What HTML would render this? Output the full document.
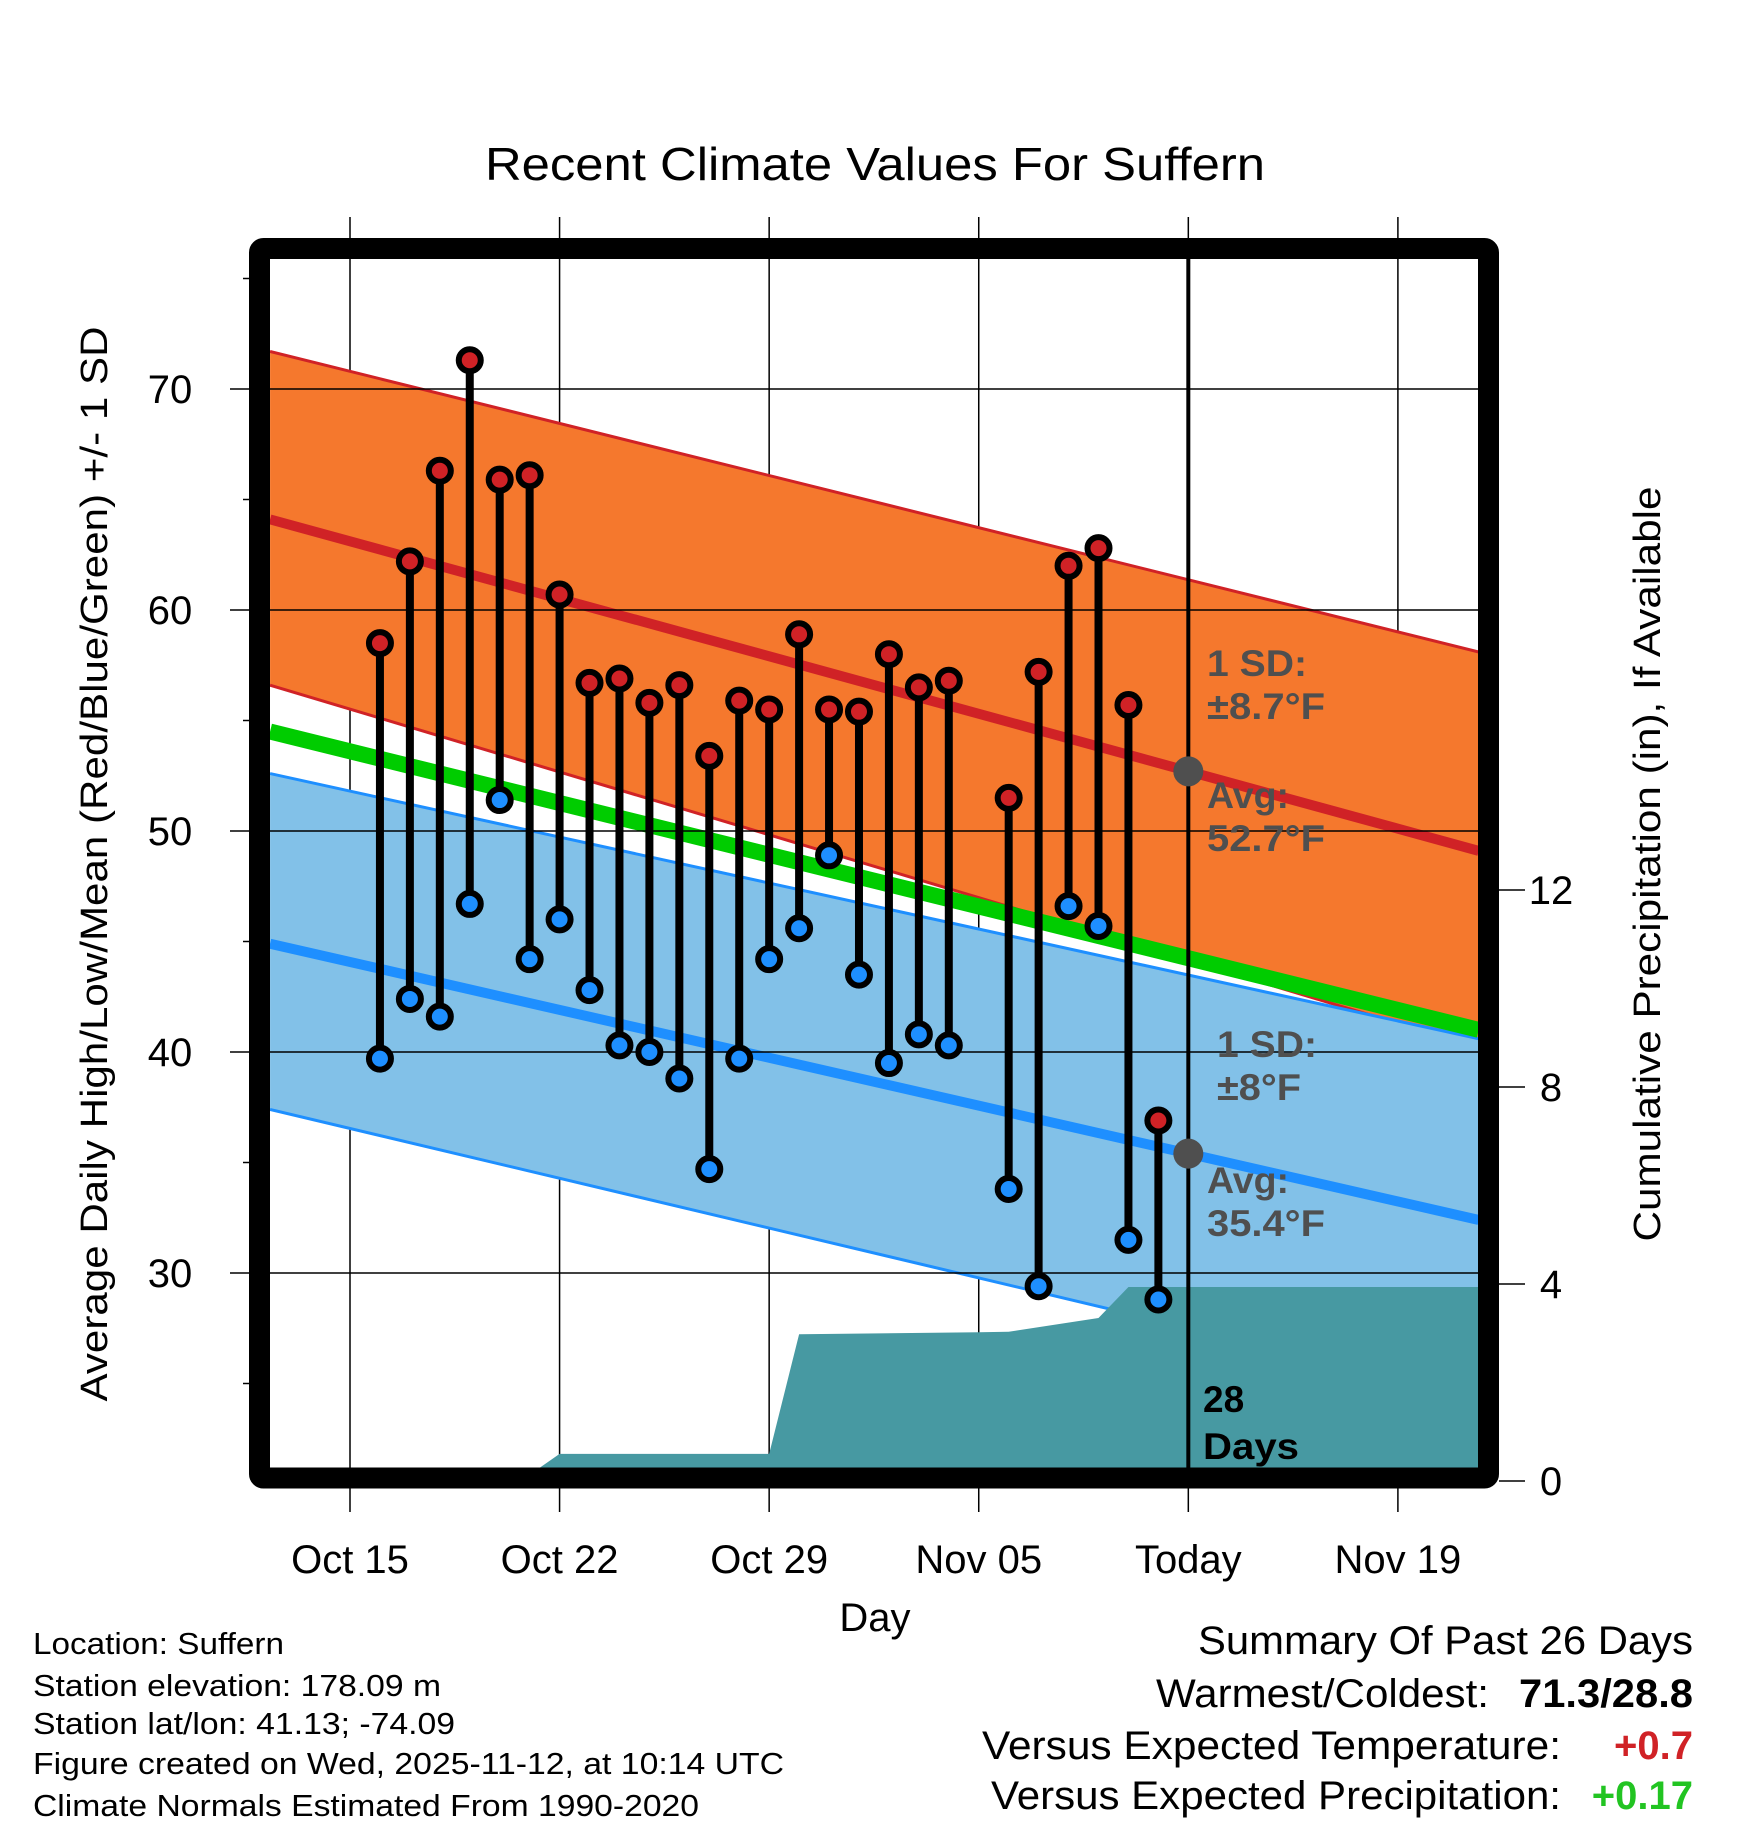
<!DOCTYPE html>
<html><head><meta charset="utf-8"><style>html,body{margin:0;padding:0;background:#fff}svg{display:block}text{font-family:"Liberation Sans",Arial,sans-serif}</style></head>
<body>
<svg id="chart" width="1748" height="1828" viewBox="0 0 1748 1828" xmlns="http://www.w3.org/2000/svg">
<g id="bg"></g><g id="marks"></g><g id="fg"></g>
</svg>
<script>
// ---- data ----
const obsDays = [1,2,3,4,5,6,7,8,9,10,11,12,13,14,15,16,17,18,19,20,22,23,24,25,26,27];
const highs = [58.5,62.2,66.3,71.3,65.9,66.1,60.7,56.7,56.9,55.8,56.6,53.4,55.9,55.5,58.9,55.5,55.4,58.0,56.5,56.8,51.5,57.2,62.0,62.8,55.7,36.9];
const lows  = [39.7,42.4,41.6,46.7,51.4,44.2,46.0,42.8,40.3,40.0,38.8,34.7,39.7,44.2,45.6,48.9,43.5,39.5,40.8,40.3,33.8,29.4,46.6,45.7,31.5,28.8];
const precipDays = [-3,5.7,7,14,15,21,22,25,26,38];
const precipCum  = [0,0,0.55,0.55,2.98,3.02,3.03,3.31,3.94,3.94];
const normDays = [-2.67,37.7];
const normHigh = [64.1,49.1];
const highUpper = [71.7,58.1];
const highLower = [56.6,40.2];
const normLow  = [44.9,32.4];
const lowUpper = [52.6,40.6];
const lowLower = [37.4,24.4];
const normMean = [54.5,41.0];
const xTickDays = [0,7,14,21,28,35];
const xTickLabels = ["Oct 15","Oct 22","Oct 29","Nov 05","Today","Nov 19"];
const yTicks = [30,40,50,60,70];
const yMinor = [25,35,45,55,65,75];
const pTicks = [0,4,8,12];
const todayDay = 28;

// ---- axes ----
const PL=270, PR=1478, PT=259, PB=1468;
const X = d => 350 + d*29.94;
const Y = v => 389 + (70-v)*22.1;
const P = p => 1481 - p*49.25;
const NS='http://www.w3.org/2000/svg';
function mk(parent, tag, attrs, txt){const e=document.createElementNS(NS,tag);for(const k in attrs)e.setAttribute(k,attrs[k]);if(txt!==undefined)e.textContent=txt;parent.appendChild(e);return e;}
const bg=document.getElementById('bg'), marks=document.getElementById('marks'), fg=document.getElementById('fg');
const clip = mk(document.getElementById('chart'),'clipPath',{id:'pc'});
mk(clip,'rect',{x:PL,y:PT,width:PR-PL,height:PB-PT});
marks.setAttribute('clip-path','url(#pc)');

// title
let t=mk(fg,'text',{x:875,y:180,'text-anchor':'middle','font-size':46,textLength:780,lengthAdjust:'spacingAndGlyphs'},'Recent Climate Values For Suffern');



// bands
function band(up, lo, fill, edge, name){
  const d0=normDays[0], d1=normDays[1];
  const pts=[[X(d0),Y(up[0])],[X(d1),Y(up[1])],[X(d1),Y(lo[1])],[X(d0),Y(lo[0])]];
  const p=mk(marks,'polygon',{points:pts.map(q=>q.join(',')).join(' '),fill:fill});
  
  
  for(const arr of [up,lo]){
    const l=mk(marks,'line',{x1:X(d0),y1:Y(arr[0]),x2:X(d1),y2:Y(arr[1]),stroke:edge,'stroke-width':3});
    
    
  }
}
band(highUpper, highLower, '#f5782d', '#d02226', 'high');
band(lowUpper, lowLower, '#82c1e8', '#1e8fff', 'low');
let ml=mk(marks,'line',{x1:X(normDays[0]),y1:Y(normMean[0]),x2:X(normDays[1]),y2:Y(normMean[1]),stroke:'#00cc00','stroke-width':16});


let hl=mk(marks,'line',{x1:X(normDays[0]),y1:Y(normHigh[0]),x2:X(normDays[1]),y2:Y(normHigh[1]),stroke:'#d02226','stroke-width':10});


let ll=mk(marks,'line',{x1:X(normDays[0]),y1:Y(normLow[0]),x2:X(normDays[1]),y2:Y(normLow[1]),stroke:'#1e8fff','stroke-width':10});



// precip area
let pp='M'+X(precipDays[0])+','+P(0);
precipDays.forEach((d,i)=>{pp+=' L'+X(d)+','+P(precipCum[i]);});
pp+=' L'+X(precipDays[precipDays.length-1])+','+P(0)+' Z';
let pa=mk(marks,'path',{d:pp,fill:'#4799a2'});



// grid
xTickDays.forEach((d,i)=>{
  const g=mk(bg,'line',{x1:X(d),y1:217,x2:X(d),y2:1512,stroke:'#000','stroke-width':1.5});
  
  
  const tl=mk(fg,'text',{x:X(d),y:1573,'text-anchor':'middle','font-size':40},xTickLabels[i]);
  
  
});
yTicks.forEach(v=>{
  const g=mk(fg,'line',{x1:230,y1:Y(v),x2:PR,y2:Y(v),stroke:'#000','stroke-width':1.5});
  
  
  const tl=mk(fg,'text',{x:170,y:Y(v)+14,'text-anchor':'middle','font-size':40},String(v));
  
  
});
yMinor.forEach(v=>{
  const g=mk(fg,'line',{x1:243,y1:Y(v),x2:252,y2:Y(v),stroke:'#000','stroke-width':1.5});
  
  
});
pTicks.forEach(p=>{
  const g=mk(fg,'line',{x1:1499,y1:P(p),x2:1525,y2:P(p),stroke:'#000','stroke-width':1.5});
  
  
  const tl=mk(fg,'text',{x:1551,y:P(p)+14,'text-anchor':'middle','font-size':40},String(p));
  
  
});

// stems & points
const pm=mk(fg,'g',{});
obsDays.forEach((d,i)=>{
  const s=mk(pm,'line',{x1:X(d),y1:Y(highs[i]),x2:X(d),y2:Y(lows[i]),stroke:'#000','stroke-width':8});
  
  
  const h=mk(pm,'circle',{cx:X(d),cy:Y(highs[i]),r:11,fill:'#d02226',stroke:'#000','stroke-width':6});
  
  
  const l=mk(pm,'circle',{cx:X(d),cy:Y(lows[i]),r:11,fill:'#1e8fff',stroke:'#000','stroke-width':6});
  
  
});

// today line
let tdl=mk(fg,'line',{x1:X(todayDay),y1:PT,x2:X(todayDay),y2:PB,stroke:'#000','stroke-width':4});


let g1=mk(fg,'circle',{cx:X(todayDay),cy:Y(52.7),r:15,fill:'#4f4f4f'});


let g2=mk(fg,'circle',{cx:X(todayDay),cy:Y(35.4),r:15,fill:'#4f4f4f'});



// annotations
function ann(x,y,txt,name,col,tl){const a={x:x,y:y,'font-size':37,'font-weight':'bold',fill:col};if(tl){a.textLength=tl;a.lengthAdjust='spacingAndGlyphs';}const e=mk(fg,'text',a,txt);return e;}
ann(1207,676,'1 SD:','high-sd-label','#4f4f4f',100);
ann(1207,719,'±8.7°F','high-sd-value','#4f4f4f',118);
ann(1207,808,'Avg:','high-avg-label','#4f4f4f',82);
ann(1207,851,'52.7°F','high-avg-value','#4f4f4f',118);
ann(1217,1057,'1 SD:','low-sd-label','#4f4f4f',100);
ann(1217,1100,'±8°F','low-sd-value','#4f4f4f',84);
ann(1207,1193,'Avg:','low-avg-label','#4f4f4f',82);
ann(1207,1236,'35.4°F','low-avg-value','#4f4f4f',118);
ann(1203,1412,'28','days-count','#000');
ann(1203,1459,'Days','days-label','#000',96);

// frame
let fr=mk(fg,'rect',{x:259.5,y:248.5,width:1229,height:1229.5,fill:'none',stroke:'#000','stroke-width':21,rx:4});



// axis titles
let xt=mk(fg,'text',{x:875,y:1631,'text-anchor':'middle','font-size':40},'Day');


let yt=mk(fg,'text',{x:0,y:0,'text-anchor':'middle','font-size':38,transform:'translate(107,864) rotate(-90)',textLength:1075,lengthAdjust:'spacingAndGlyphs'},'Average Daily High/Low/Mean (Red/Blue/Green) +/- 1 SD');


let yt2=mk(fg,'text',{x:0,y:0,'text-anchor':'middle','font-size':38,transform:'translate(1660,864) rotate(-90)',textLength:755,lengthAdjust:'spacingAndGlyphs'},'Cumulative Precipitation (in), If Available');



// footer left
const foot=['Location: Suffern','Station elevation: 178.09 m','Station lat/lon: 41.13; -74.09','Figure created on Wed, 2025-11-12, at 10:14 UTC','Climate Normals Estimated From 1990-2020'];
const footY=[1643,1685,1723,1763,1805];
const footW=[251,408,422,751,666];
foot.forEach((s,i)=>{const e=mk(fg,'text',{x:33,y:footY[i]+11,'font-size':31,textLength:footW[i],lengthAdjust:'spacingAndGlyphs'},s);});

// summary
function sm(x,y,txt,name,opts){const a={x:x,y:y+14,'text-anchor':'end','font-size':40};Object.assign(a,opts||{});const e=mk(fg,'text',a,txt);return e;}
sm(1693,1640,'Summary Of Past 26 Days','summary-title',{textLength:495,lengthAdjust:'spacingAndGlyphs'});
sm(1489,1693,'Warmest/Coldest:','warmest-coldest-label',{textLength:333,lengthAdjust:'spacingAndGlyphs'});
sm(1693,1693,'71.3/28.8','warmest-coldest-value',{'font-weight':'bold',textLength:174,lengthAdjust:'spacingAndGlyphs'});
sm(1561,1745,'Versus Expected Temperature:','temp-anomaly-label',{textLength:579,lengthAdjust:'spacingAndGlyphs'});
sm(1693,1745,'+0.7','temp-anomaly-value',{'font-weight':'bold',fill:'#d02226'});
sm(1561,1795,'Versus Expected Precipitation:','precip-anomaly-label',{textLength:570,lengthAdjust:'spacingAndGlyphs'});
sm(1693,1795,'+0.17','precip-anomaly-value',{'font-weight':'bold',fill:'#22c422'});
</script>
</body></html>
